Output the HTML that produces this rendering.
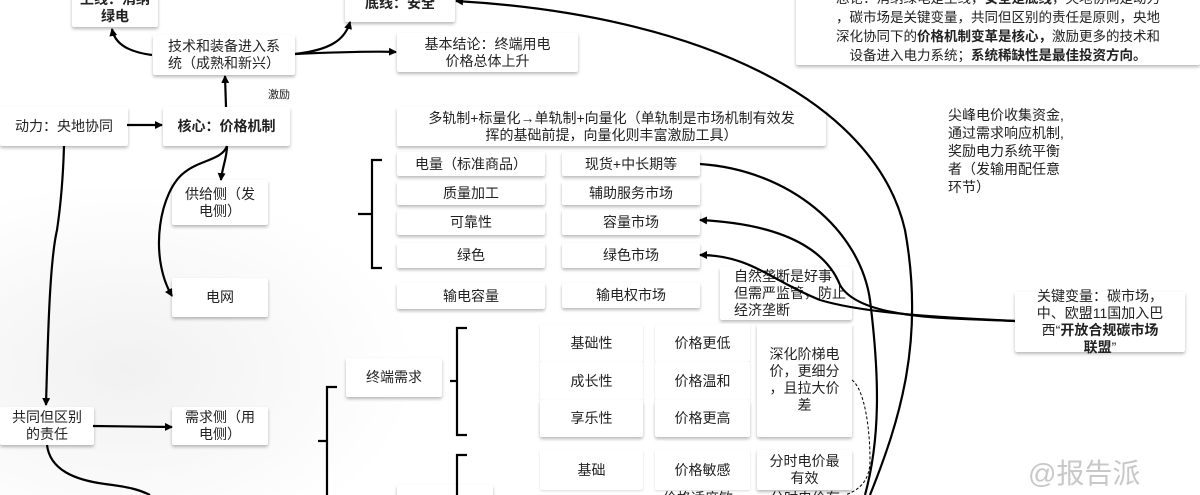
<!DOCTYPE html>
<html><head><meta charset="utf-8"><style>
html,body{margin:0;width:1200px;height:495px;overflow:hidden}
body{background:#fff;position:relative;font-family:"Liberation Sans","Noto Sans CJK SC",sans-serif;color:#222}
.b{position:absolute;background:#fff;box-shadow:0 2px 3px rgba(0,0,0,.28);border-radius:2px;display:flex;align-items:center;justify-content:center;text-align:center;font-size:14px;line-height:17px;box-sizing:border-box}
.t{position:absolute;font-size:14px;line-height:19px}
svg{position:absolute;left:0;top:0}
</style></head><body>
<div style="position:absolute;left:0;top:180px;width:420px;height:315px;background:radial-gradient(ellipse at 30% 60%,#f1f1f1,#fff 70%)"></div>
<div class="b" style="left:72px;top:-12px;width:86px;height:39px;font-weight:bold"><span>上线：消纳<br>绿电</span></div>
<div class="b" style="left:345px;top:-16px;width:110px;height:38px;font-weight:bold"><span>底线：安全</span></div>
<div class="b" style="left:153px;top:35px;width:142px;height:40px"><span>技术和装备进入系<br>统（成熟和新兴）</span></div>
<div class="b" style="left:397px;top:33px;width:181px;height:39px"><span>基本结论：终端用电<br>价格总体上升</span></div>
<div class="b" style="left:796px;top:-12px;width:404px;height:77px;font-size:13.5px;line-height:19px"><span>总论：消纳绿电是主线，<b>安全是底线</b>，央地协同是动力<br>，碳市场是关键变量，共同但区别的责任是原则，央地<br>深化协同下的<b>价格机制变革是核心，</b>激励更多的技术和<br>设备进入电力系统；<b>系统稀缺性是最佳投资方向。</b></span></div>
<div class="b" style="left:0;top:107px;width:128px;height:39px"><span>动力：央地协同</span></div>
<div class="b" style="left:163px;top:107px;width:127px;height:39px;font-weight:bold"><span>核心：价格机制</span></div>
<div class="b" style="left:397px;top:107px;width:429px;height:39px"><span>多轨制+标量化→单轨制+向量化（单轨制是市场机制有效发<br>挥的基础前提，向量化则丰富激励工具）</span></div>
<div class="b" style="left:397px;top:152px;width:148px;height:24px"><span>电量（标准商品）</span></div>
<div class="b" style="left:562px;top:152px;width:138px;height:24px"><span>现货+中长期等</span></div>
<div class="b" style="left:397px;top:181px;width:148px;height:24px"><span>质量加工</span></div>
<div class="b" style="left:562px;top:181px;width:138px;height:24px"><span>辅助服务市场</span></div>
<div class="b" style="left:397px;top:210px;width:148px;height:25px"><span>可靠性</span></div>
<div class="b" style="left:562px;top:210px;width:138px;height:25px"><span>容量市场</span></div>
<div class="b" style="left:397px;top:243px;width:148px;height:25px"><span>绿色</span></div>
<div class="b" style="left:562px;top:243px;width:138px;height:25px"><span>绿色市场</span></div>
<div class="b" style="left:397px;top:283px;width:148px;height:26px"><span>输电容量</span></div>
<div class="b" style="left:562px;top:283px;width:138px;height:25px"><span>输电权市场</span></div>
<div class="b" style="left:720px;top:267px;width:132px;height:53px;justify-content:flex-start;text-align:left;padding-left:14px"><span>自然垄断是好事<br>但需严监管，防止<br>经济垄断</span></div>
<div class="b" style="left:172px;top:180px;width:96px;height:45px"><span>供给侧（发<br>电侧）</span></div>
<div class="b" style="left:172px;top:278px;width:96px;height:39px"><span>电网</span></div>
<div class="b" style="left:1015px;top:292px;width:170px;height:60px"><span>关键变量：碳市场，<br>中、欧盟11国加入巴<br>西“<b>开放合规碳市场<br>联盟</b>”</span></div>
<div class="b" style="left:346px;top:358px;width:96px;height:39px"><span>终端需求</span></div>
<div class="b" style="left:540px;top:324px;width:103px;height:38px;box-shadow:0 1px 2px rgba(0,0,0,.15)"><span>基础性</span></div>
<div class="b" style="left:540px;top:362px;width:103px;height:38px;box-shadow:0 1px 2px rgba(0,0,0,.15)"><span>成长性</span></div>
<div class="b" style="left:540px;top:400px;width:103px;height:37px"><span>享乐性</span></div>
<div class="b" style="left:655px;top:324px;width:95px;height:38px;box-shadow:0 1px 2px rgba(0,0,0,.15)"><span>价格更低</span></div>
<div class="b" style="left:655px;top:362px;width:95px;height:38px;box-shadow:0 1px 2px rgba(0,0,0,.15)"><span>价格温和</span></div>
<div class="b" style="left:655px;top:400px;width:95px;height:37px"><span>价格更高</span></div>
<div class="b" style="left:757px;top:324px;width:95px;height:113px;align-items:flex-start;padding-top:22px"><span>深化阶梯电<br>价，更细分<br>，且拉大价<br>差</span></div>
<div class="b" style="left:0;top:407px;width:94px;height:38px"><span>共同但区别<br>的责任</span></div>
<div class="b" style="left:172px;top:407px;width:96px;height:38px"><span>需求侧（用<br>电侧）</span></div>
<div class="b" style="left:540px;top:450px;width:103px;height:40px;box-shadow:0 1px 2px rgba(0,0,0,.15)"><span>基础</span></div>
<div class="b" style="left:655px;top:450px;width:95px;height:40px;box-shadow:0 1px 2px rgba(0,0,0,.15)"><span>价格敏感</span></div>
<div class="b" style="left:757px;top:450px;width:95px;height:40px"><span>分时电价最<br>有效</span></div>
<div class="t" style="left:663px;top:489px">价格适度敏</div>
<div class="t" style="left:770px;top:489px">分时电价有</div>
<div class="b" style="left:397px;top:485px;width:96px;height:30px"></div>
<div class="t" style="left:268px;top:86px;font-size:11px">激励</div>
<div class="t" style="left:948px;top:106px;line-height:18px">尖峰电价收集资金,<br>通过需求响应机制,<br>奖励电力系统平衡<br>者（发输用配任意<br>环节）</div>
<div class="t" style="left:1028px;top:457px;font-size:28px;line-height:34px;color:#c8c8c8">@报告派</div>
<svg width="1200" height="495" viewBox="0 0 1200 495">
<defs><marker id="a" markerWidth="8" markerHeight="8" refX="7" refY="4" orient="auto" markerUnits="userSpaceOnUse"><path d="M0,0L8,4L0,8z" fill="#000"/></marker></defs>
<g fill="none" stroke="#000" stroke-width="2.2">
<path d="M152,55 C130,52 115,45 112,29" marker-end="url(#a)"/>
<path d="M295,54 C330,50 345,40 350,22" marker-end="url(#a)"/>
<path d="M295,54 C340,52 370,51 396,52" marker-end="url(#a)"/>
<path d="M226,107 L225,76" marker-end="url(#a)"/>
<path d="M127,125 L162,125" marker-end="url(#a)"/>
<path d="M64,146 C63,180 60,210 57,230 C50,260 48,330 46,405" marker-end="url(#a)"/>
<path d="M227,146 C227,158 222,168 221,180" marker-end="url(#a)"/>
<path d="M227,146 C222,160 200,160 185,172 C160,190 148,255 172,296" marker-end="url(#a)"/>
<path d="M93,426 L172,427" marker-end="url(#a)"/>
<path d="M47,445 C50,470 75,480 105,484 C130,487 140,490 150,495"/>
<path d="M870,495 C900,420 925,340 905,230 C875,100 700,15 456,1" marker-end="url(#a)"/>
<path d="M700,164 C790,170 860,230 870,300 C880,380 880,440 865,495"/>
<path d="M1015,321 C960,318 870,315 820,300 C770,280 750,255 700,255" marker-end="url(#a)"/>
<path d="M1015,321 C950,318 860,320 840,285 C830,260 800,225 700,220" marker-end="url(#a)"/>
</g>
<g fill="none" stroke="#000" stroke-width="2.2">
<path d="M382,160 L372,160 L372,268 L382,268 M372,214 L358,214"/>
<path d="M467,328 L457,328 L457,435 L467,435 M457,381 L450,381"/>
<path d="M337,387 L327,387 L327,495 M327,441 L318,441"/>
<path d="M467,455 L457,455 L457,495"/>
</g>
<path d="M852,380 C865,390 870,430 870,460 C870,480 860,490 845,495" fill="none" stroke="#000" stroke-width="1" stroke-dasharray="3,2"/>
</svg>
</body></html>
